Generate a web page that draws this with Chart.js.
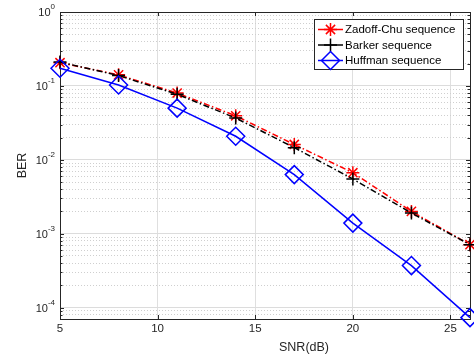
<!DOCTYPE html>
<html>
<head>
<meta charset="utf-8">
<script src="https://cdn.jsdelivr.net/npm/chart.js@4.4.1/dist/chart.umd.min.js"></script>
<style>
  html, body { margin: 0; padding: 0; background: #fff; }
  #wrap { width: 474px; height: 354px; }
</style>
</head>
<body>
<div id="wrap"><canvas id="myChart" width="474" height="354"></canvas></div>
<script>
// values
const snr = [5, 8, 11, 14, 17, 20, 23, 26];
const zadoffChu = [0.206, 0.141, 0.080, 0.0394, 0.0161, 0.00668, 0.0020, 0.00071];
const barker = [0.21, 0.138, 0.077, 0.0367, 0.0146, 0.0055, 0.0019, 0.00071];
const huffman = [0.173, 0.103, 0.050, 0.0208, 0.0063, 0.00139, 0.00037, 0.000073];

const xTicks = [5, 10, 15, 20, 25];
const yDecades = [-5, -4, -3, -2, -1, 0];
const yMinor = [1, 2, 3, 4, 5, 6, 7, 8, 9];
const yLabelExp = [0, -1, -2, -3, -4];
const legendNames = ['Zadoff-Chu sequence', 'Barker sequence', 'Huffman sequence'];
const xTitle = 'SNR(dB)';

const X_MIN = 5, X_MAX = 26, Y_MIN = 7.3e-5, Y_MAX = 1;
const axisColor = '#262626';
const fontFam = '"Liberation Sans", Arial, sans-serif';

// box, inward ticks and superscript tick labels like the original plot
const axesPlugin = {
    id: 'axesBox',
    beforeDatasetsDraw(chart) {
        const ctx = chart.ctx, a = chart.chartArea;
        const xs = chart.scales.x, ys = chart.scales.y;
        ctx.save();
        ctx.strokeStyle = axisColor;
        ctx.lineWidth = 1;
        ctx.beginPath();
        xTicks.forEach(v => {
            const px = Math.round(xs.getPixelForValue(v)) + 0.5;
            ctx.moveTo(px, a.bottom); ctx.lineTo(px, a.bottom - 4);
            ctx.moveTo(px, a.top); ctx.lineTo(px, a.top + 4);
        });
        ys.ticks.forEach(t => {
            const py = Math.round(ys.getPixelForValue(t.value)) + 0.5;
            const len = t.major ? 4 : 2.5;
            ctx.moveTo(a.left, py); ctx.lineTo(a.left + len, py);
            ctx.moveTo(a.right, py); ctx.lineTo(a.right - len, py);
        });
        ctx.stroke();
        ctx.strokeRect(Math.round(a.left) + 0.5, Math.round(a.top) + 0.5,
            Math.round(a.right - a.left), Math.round(a.bottom - a.top));

        ctx.fillStyle = axisColor;
        ctx.textBaseline = 'middle';
        yLabelExp.forEach(e => {
            const py = ys.getPixelForValue(Math.pow(10, e));
            const exp = e === 0 ? '0' : '-' + Math.abs(e);
            ctx.font = '8px ' + fontFam;
            const ew = ctx.measureText(exp).width;
            ctx.textAlign = 'left';
            ctx.fillText(exp, 55 - ew, py - 5);
            ctx.font = '11px ' + fontFam;
            ctx.textAlign = 'right';
            ctx.fillText('10', 55 - ew, py + 1);
        });
        // x label sits right of centre in the original figure
        ctx.font = '12.5px ' + fontFam;
        ctx.textAlign = 'center';
        ctx.fillText(xTitle, 304, 348);
        ctx.restore();
    },
    afterDraw(chart) {
        const ctx = chart.ctx;
        const x0 = 314, y0 = 19, w = 149, h = 50;
        ctx.save();
        ctx.fillStyle = '#fff';
        ctx.fillRect(x0, y0, w, h);
        ctx.strokeStyle = axisColor;
        ctx.lineWidth = 1;
        ctx.strokeRect(x0 + 0.5, y0 + 0.5, w, h);
        chart.data.datasets.forEach((ds, i) => {
            const yy = y0 + 10.5 + i * 15.5;
            ctx.strokeStyle = ds.borderColor;
            ctx.lineWidth = ds.borderWidth;
            ctx.setLineDash([]);
            ctx.beginPath();
            ctx.moveTo(318, yy); ctx.lineTo(343, yy);
            ctx.stroke();
            ctx.fillStyle = 'rgba(0,0,0,0)';
            Chart.helpers.drawPoint(ctx, {
                pointStyle: ds.pointStyle, radius: ds.pointRadius,
                borderWidth: ds.pointBorderWidth, rotation: 0
            }, 330.5, yy);
            ctx.fillStyle = '#000';
            ctx.font = '11.5px ' + fontFam;
            ctx.textAlign = 'left';
            ctx.textBaseline = 'middle';
            ctx.fillText(legendNames[i], 345, yy + 0.5);
        });
        ctx.restore();
    }
};

function series(label, data, color, style, radius, dash, order) {
    return {
        label: label,
        data: snr.map((x, i) => ({ x: x, y: data[i] })),
        borderColor: color,
        backgroundColor: 'transparent',
        borderWidth: 1.5,
        borderDash: dash,
        pointStyle: style,
        pointRadius: radius,
        pointBorderColor: color,
        pointBackgroundColor: 'transparent',
        pointBorderWidth: 1.5,
        tension: 0,
        clip: false,
        order: order
    };
}

new Chart(document.getElementById('myChart').getContext('2d'), {
    type: 'line',
    data: {
        datasets: [
            series(legendNames[0], zadoffChu, '#ff0000', 'star', 6.5, [6, 2.5, 1.5, 2.5], 3),
            series(legendNames[1], barker, '#000000', 'cross', 6.5, [6, 2.5, 1.5, 2.5], 2),
            series(legendNames[2], huffman, '#0000ff', 'rectRot', 9, [], 1)
        ]
    },
    plugins: [axesPlugin],
    options: {
        responsive: false,
        animation: false,
        devicePixelRatio: 1,
        layout: { autoPadding: false, padding: { top: 12, right: 4, left: 0, bottom: 0 } },
        plugins: { legend: { display: false }, tooltip: { enabled: false } },
        scales: {
            x: {
                type: 'linear',
                min: X_MIN, max: X_MAX,
                afterBuildTicks: s => { s.ticks = xTicks.map(v => ({ value: v })); },
                afterFit: s => { s.height = 35; s.paddingLeft = 0; s.paddingRight = 0; },
                grid: { color: '#dfdfdf', lineWidth: 1, drawTicks: false },
                border: { display: false },
                ticks: { color: axisColor, font: { family: fontFam, size: 11.5 }, padding: 3, maxRotation: 0 },
                title: { display: false }
            },
            y: {
                type: 'logarithmic',
                min: Y_MIN, max: Y_MAX,
                afterBuildTicks: s => {
                    const t = [];
                    yDecades.forEach(e => yMinor.forEach(m => {
                        const v = m * Math.pow(10, e);
                        if (v >= Y_MIN && v <= Y_MAX * 1.0001) t.push({ value: v, major: m === 1 });
                    }));
                    s.ticks = t;
                },
                afterFit: s => { s.width = 60; s.paddingTop = 0; s.paddingBottom = 0; },
                grid: {
                    color: c => (c.tick && c.tick.major) ? '#dcdcdc' : '#cfcfcf',
                    lineWidth: 1, drawTicks: false
                },
                border: { display: false, dash: c => (c.tick && !c.tick.major) ? [1, 2] : [] },
                ticks: { display: false },
                title: { display: true, text: 'BER', color: axisColor,
                    font: { family: fontFam, size: 12.5, lineHeight: 1 }, padding: { top: 16, bottom: 0 } }
            }
        }
    }
});
</script>
</body>
</html>
